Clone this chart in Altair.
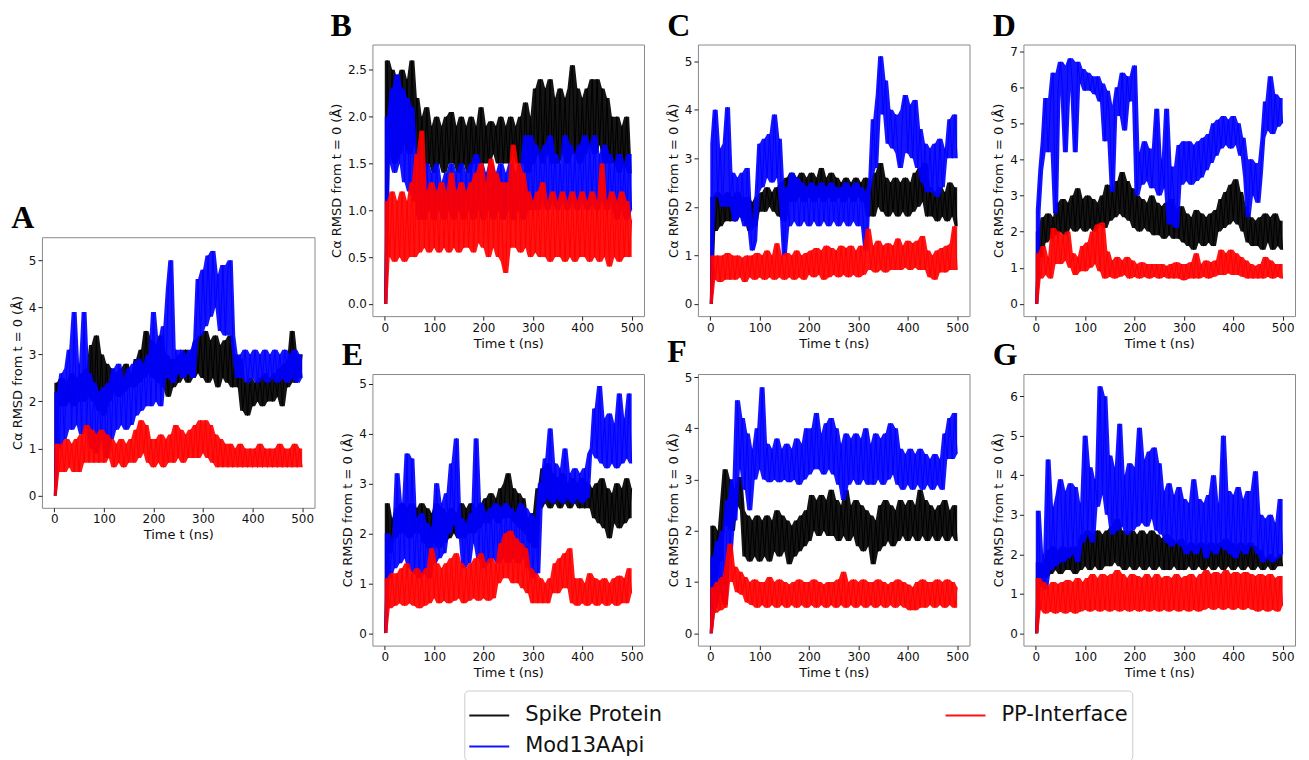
import altair as alt
import pandas as pd

# sampling times (ns)
TIME = list(range(0, 501, 5))

SERIES = ["Spike Protein", "Mod13AApi", "PP-Interface"]
SERIES_COLORS = ["#000000", "#0000ff", "#ff0000"]

X_TICKS = [0, 100, 200, 300, 400, 500]

# ---------------- Panel A ----------------
A_SPIKE = [0.0, 2.4, 1.9, 2.5, 1.9, 2.4, 2.0, 2.6, 1.9, 2.5,
           2.0, 2.6, 2.0, 2.7, 2.1, 3.2, 2.0, 3.4, 1.8, 3.0,
           1.7, 2.8, 2.0, 2.7, 2.2, 2.6, 2.1, 2.7, 2.2, 2.8,
           2.3, 2.6, 2.3, 2.9, 2.4, 3.1, 2.5, 3.5, 2.6, 3.3,
           2.5, 3.2, 2.4, 3.4, 2.3, 3.0, 2.1, 2.9, 2.3, 2.9,
           2.4, 3.0, 2.5, 3.1, 2.4, 3.0, 2.5, 3.3, 2.6, 3.4,
           2.5, 3.5, 2.4, 3.3, 2.5, 3.4, 2.3, 3.2, 2.5, 3.3,
           2.4, 3.4, 2.3, 3.0, 2.3, 2.9, 1.8, 2.4, 1.7, 2.5,
           1.9, 2.4, 2.0, 2.5, 1.9, 2.6, 2.0, 2.5, 2.0, 2.6,
           2.1, 2.7, 1.9, 2.8, 2.3, 2.9, 3.5, 2.4, 3.0, 2.5,
           3.0]
A_MOD = [0.0, 2.2, 1.0, 2.6, 1.2, 2.7, 3.1, 1.4, 3.9, 1.5,
         2.8, 1.3, 3.9, 1.5, 2.6, 1.0, 2.4, 0.9, 2.2, 1.2,
         2.3, 0.8, 2.4, 1.2, 2.7, 1.4, 2.8, 1.5, 2.5, 1.4,
         2.7, 1.5, 2.8, 1.7, 2.9, 1.8, 2.8, 1.9, 3.0, 1.9,
         3.9, 2.0, 3.3, 1.9, 3.6, 2.5, 4.4, 5.0, 2.4, 3.1,
         2.6, 3.1, 2.5, 3.0, 2.6, 3.1, 2.5, 3.3, 4.6, 3.4,
         4.8, 3.6, 5.1, 3.8, 5.2, 4.0, 4.7, 3.5, 4.9, 3.4,
         4.8, 5.0, 3.4, 2.9, 2.5, 3.0, 2.5, 3.1, 2.4, 3.0,
         2.5, 3.1, 2.4, 3.0, 2.5, 3.1, 2.4, 3.0, 2.5, 3.1,
         2.4, 3.0, 2.5, 3.1, 2.4, 3.0, 2.5, 3.1, 2.4, 3.0,
         2.5]
A_PP = [0.0, 1.1, 0.5, 1.1, 0.5, 1.2, 0.6, 1.1, 0.5, 1.2,
        0.5, 1.3, 0.7, 1.5, 0.7, 1.4, 0.7, 1.3, 0.7, 1.4,
        0.7, 1.3, 0.8, 1.2, 0.6, 1.1, 0.7, 1.2, 0.6, 1.1,
        0.7, 1.2, 0.7, 1.4, 0.8, 1.6, 0.9, 1.5, 0.7, 1.2,
        0.6, 1.2, 0.7, 1.3, 0.6, 1.2, 0.7, 1.3, 0.7, 1.5,
        0.8, 1.4, 0.7, 1.3, 0.8, 1.4, 0.8, 1.5, 0.8, 1.6,
        0.9, 1.6, 0.8, 1.5, 0.7, 1.3, 0.6, 1.2, 0.6, 1.1,
        0.6, 1.1, 0.6, 1.0, 0.6, 1.1, 0.6, 1.0, 0.6, 1.0,
        0.6, 1.0, 0.6, 1.1, 0.6, 1.0, 0.6, 1.0, 0.6, 1.0,
        0.6, 1.1, 0.6, 1.0, 0.6, 1.0, 0.6, 1.1, 0.6, 1.0,
        0.6]

# ---------------- Panel B ----------------
B_SPIKE = [0.0, 2.6, 1.6, 2.5, 1.5, 2.4, 1.6, 2.5, 1.7, 2.4,
           1.6, 2.6, 1.7, 2.2, 1.5, 2.0, 1.4, 2.1, 1.5, 1.9,
           1.4, 2.0, 1.5, 1.9, 1.4, 2.0, 1.5, 2.05, 1.5, 1.9,
           1.4, 2.0, 1.5, 1.9, 1.4, 2.0, 1.5, 1.9, 1.5, 2.1,
           1.5, 1.9, 1.5, 1.95, 1.6, 1.9, 1.5, 2.0, 1.5, 1.9,
           1.5, 2.0, 1.6, 1.9, 1.5, 2.0, 1.5, 2.15, 1.4, 2.0,
           1.5, 2.3, 1.6, 2.4, 1.5, 2.3, 1.6, 2.4, 1.5, 2.2,
           1.5, 2.3, 1.6, 2.2, 1.5, 2.3, 2.55, 1.6, 2.3, 1.5,
           2.2, 1.6, 2.3, 1.7, 2.4, 1.6, 2.4, 1.7, 2.3, 1.5,
           2.2, 1.5, 2.0, 1.5, 2.0, 1.4, 1.9, 1.5, 2.0, 1.4,
           1.4]
B_MOD = [0.0, 2.0, 1.5, 2.3, 1.4, 2.45, 1.5, 2.3, 1.3, 2.2,
         1.2, 2.1, 1.1, 1.6, 0.9, 1.4, 0.9, 1.5, 1.0, 1.4,
         0.9, 1.5, 1.0, 1.3, 0.9, 1.4, 1.0, 1.5, 0.9, 1.4,
         1.0, 1.5, 0.9, 1.4, 1.0, 1.5, 0.9, 1.6, 1.0, 1.5,
         0.9, 1.4, 1.0, 1.5, 0.9, 1.4, 1.0, 1.5, 0.9, 1.4,
         1.0, 1.5, 0.9, 1.4, 1.0, 1.5, 0.9, 1.8, 1.0, 1.8,
         1.0, 1.7, 1.0, 1.6, 1.1, 1.7, 1.0, 1.8, 1.1, 1.6,
         1.0, 1.5, 1.1, 1.8, 1.0, 1.7, 1.1, 1.6, 1.0, 1.7,
         1.1, 1.8, 1.0, 1.7, 1.1, 1.8, 1.0, 1.6, 1.1, 1.7,
         1.0, 1.6, 1.1, 1.5, 0.9, 1.6, 1.0, 1.5, 0.9, 1.6,
         1.0]
B_PP = [0.0, 1.1, 0.5, 1.2, 0.45, 1.1, 0.5, 1.2, 0.45, 1.1,
        0.5, 1.3, 0.5, 1.6, 0.55, 1.85, 0.6, 1.2, 0.55, 1.3,
        0.6, 1.2, 0.55, 1.3, 0.6, 1.2, 0.55, 1.4, 0.6, 1.2,
        0.55, 1.3, 0.6, 1.2, 0.6, 1.3, 0.55, 1.4, 0.65, 1.5,
        0.6, 1.3, 0.5, 1.55, 0.6, 1.4, 0.5, 1.3, 0.45, 0.33,
        1.3, 0.6, 1.7, 0.6, 1.5, 0.55, 1.4, 0.6, 1.2, 0.5,
        1.1, 0.55, 1.2, 0.5, 1.3, 0.5, 1.1, 0.45, 1.2, 0.5,
        1.1, 0.5, 1.2, 0.45, 1.1, 0.5, 1.2, 0.45, 1.1, 0.5,
        1.2, 0.5, 1.1, 0.45, 1.2, 0.5, 1.1, 0.45, 1.5, 0.5,
        1.1, 0.4, 1.2, 0.5, 1.1, 0.45, 1.2, 0.5, 1.1, 0.5,
        0.9]

# ---------------- Panel C ----------------
C_SPIKE = [0.0, 2.2, 1.5, 2.3, 1.6, 2.2, 1.7, 2.3, 1.7, 2.2,
           1.7, 2.3, 1.8, 2.2, 1.7, 2.2, 1.5, 2.1, 1.6, 2.2,
           1.9, 2.3, 1.9, 2.4, 2.0, 2.3, 1.9, 2.4, 1.8, 2.5,
           1.7, 2.6, 2.1, 2.7, 2.1, 2.6, 2.2, 2.7, 2.1, 2.6,
           2.2, 2.7, 2.1, 2.6, 2.2, 2.8, 2.1, 2.6, 2.2, 2.7,
           2.1, 2.6, 2.2, 2.5, 2.1, 2.6, 2.2, 2.5, 2.1, 2.6,
           2.2, 2.5, 2.1, 2.6, 1.8, 2.5, 1.8, 2.7, 2.0, 2.9,
           1.9, 2.6, 1.8, 2.5, 1.9, 2.6, 1.8, 2.5, 1.9, 2.6,
           1.8, 2.5, 1.9, 2.7, 2.0, 2.8, 2.1, 2.9, 1.8, 2.4,
           1.8, 2.3, 1.7, 2.4, 1.8, 2.3, 1.7, 2.5, 1.8, 2.4,
           1.6]
C_MOD = [0.0, 3.3, 4.0, 2.2, 3.2, 2.0, 3.3, 4.05, 2.0, 2.7,
         1.7, 2.6, 1.8, 2.7, 1.6, 2.8, 1.7, 1.1, 1.3, 2.3,
         3.3, 2.4, 3.4, 2.6, 3.5, 2.5, 3.9, 2.6, 3.4, 2.0,
         1.0, 2.4, 1.6, 2.7, 1.7, 2.6, 1.6, 2.5, 1.7, 2.4,
         1.6, 2.5, 1.7, 2.4, 1.6, 2.5, 1.7, 2.4, 1.6, 2.5,
         1.7, 2.4, 1.6, 2.4, 1.7, 2.5, 1.6, 2.4, 1.7, 2.5,
         1.6, 2.4, 1.7, 1.1, 2.3, 2.6, 3.8, 2.8, 4.3, 5.1,
         3.9, 4.6, 3.3, 4.0, 3.2, 3.9, 3.1, 2.8, 4.0, 4.3,
         3.1, 4.1, 3.0, 4.2, 2.8, 3.6, 2.5, 3.3, 2.3, 3.2,
         2.3, 3.3, 2.2, 3.4, 2.4, 3.2, 3.0, 3.8, 3.0, 3.9,
         3.0]
C_PP = [0.0, 1.0, 0.5, 1.0, 0.45, 1.0, 0.5, 1.05, 0.5, 1.0,
        0.5, 1.0, 0.55, 0.95, 0.45, 1.0, 0.55, 1.0, 0.5, 1.05,
        0.55, 1.0, 0.5, 1.1, 0.55, 1.0, 0.5, 1.25, 0.55, 1.0,
        0.5, 1.05, 0.55, 1.0, 0.5, 1.1, 0.55, 1.0, 0.5, 1.05,
        0.6, 1.1, 0.55, 1.15, 0.6, 1.1, 0.5, 1.2, 0.55, 1.15,
        0.6, 1.1, 0.55, 1.2, 0.6, 1.15, 0.55, 1.2, 0.6, 1.1,
        0.55, 1.2, 0.6, 1.1, 1.55, 0.7, 1.2, 0.65, 1.3, 0.7,
        1.2, 0.65, 1.25, 0.7, 1.2, 0.7, 1.35, 0.7, 1.2, 0.75,
        1.3, 0.7, 1.25, 0.75, 1.3, 0.7, 1.4, 0.7, 1.1, 0.55,
        1.0, 0.5, 1.1, 0.65, 1.15, 0.65, 1.2, 0.7, 1.25, 1.6,
        0.7]

# ---------------- Panel D ----------------
D_SPIKE = [0.0, 2.0, 1.3, 2.4, 1.7, 2.5, 1.8, 2.4, 1.9, 2.8,
           2.0, 2.9, 1.9, 2.8, 2.1, 3.0, 2.0, 3.2, 2.1, 2.9,
           2.0, 3.0, 2.1, 2.9, 2.0, 2.8, 2.2, 3.0, 2.1, 3.3,
           2.3, 3.1, 2.4, 3.4, 2.5, 3.65, 2.4, 3.4, 2.3, 3.2,
           2.1, 3.0, 2.0, 2.9, 2.1, 2.8, 2.0, 3.0, 1.9, 2.8,
           1.9, 2.7, 1.8, 2.8, 1.9, 2.9, 1.8, 2.6, 1.8, 2.7,
           1.7, 2.5, 1.6, 2.4, 1.5, 2.6, 1.7, 2.5, 1.6, 2.4,
           1.7, 2.5, 1.6, 2.6, 2.0, 2.9, 2.1, 3.1, 2.2, 3.3,
           2.3, 3.45, 2.2, 3.1, 2.0, 2.7, 1.7, 2.4, 1.6, 2.3,
           1.6, 2.4, 1.5, 2.5, 1.7, 2.4, 1.5, 2.5, 1.6, 2.3,
           1.5]
D_MOD = [0.0, 2.6, 3.7, 4.5, 5.7, 4.2, 5.6, 6.4, 2.5, 5.9,
         6.7, 5.8, 4.2, 6.6, 6.8, 5.9, 4.2, 6.7, 6.1, 6.5,
         5.9, 6.4, 5.9, 6.3, 5.8, 6.3, 5.6, 6.1, 4.5, 5.9,
         4.9, 3.1, 5.5, 6.0, 5.2, 6.4, 4.8, 6.3, 5.6, 6.3,
         6.6, 3.0, 4.2, 3.3, 4.5, 3.4, 4.3, 3.2, 4.2, 5.4,
         3.0, 4.0, 3.2, 5.4, 2.2, 3.8, 2.9, 2.1, 4.4, 3.3,
         4.5, 3.4, 4.5, 3.3, 4.4, 3.4, 4.5, 3.5, 4.6, 3.7,
         4.7, 3.9, 5.0, 4.1, 5.1, 4.3, 5.2, 4.4, 5.1, 4.3,
         5.2, 4.4, 5.0, 4.1, 4.6, 3.5, 2.4, 4.0, 3.0, 3.9,
         2.8, 3.6, 4.6, 5.6, 4.8, 6.3, 4.7, 5.8, 4.9, 5.7,
         5.0]
D_PP = [0.0, 1.4, 0.7, 1.6, 0.8, 1.3, 0.7, 2.1, 1.1, 2.0,
        1.1, 1.9, 1.2, 2.0, 1.0, 1.4, 0.8, 1.3, 0.9, 1.6,
        0.9, 1.7, 1.0, 2.0, 1.1, 2.2, 0.9, 2.25, 0.7, 1.45,
        0.75, 1.2, 0.7, 1.3, 0.75, 1.2, 0.8, 1.3, 0.7, 1.2,
        0.75, 1.1, 0.7, 1.15, 0.75, 1.1, 0.7, 1.1, 0.75, 1.1,
        0.7, 1.1, 0.75, 1.05, 0.7, 1.1, 0.7, 1.15, 0.7, 1.1,
        0.65, 1.1, 0.7, 1.15, 0.7, 1.4, 0.7, 1.1, 0.75, 1.2,
        0.7, 1.15, 0.75, 1.2, 0.8, 1.5, 0.8, 1.4, 0.85, 1.5,
        0.8, 1.4, 0.8, 1.3, 0.75, 1.2, 0.7, 1.1, 0.7, 1.05,
        0.7, 1.1, 0.7, 1.3, 0.75, 1.2, 0.7, 1.1, 0.75, 1.1,
        0.7]

# ---------------- Panel E ----------------
E_SPIKE = [0.0, 2.6, 1.6, 2.3, 1.9, 2.5, 2.0, 2.6, 2.0, 2.5,
           1.9, 2.6, 2.0, 2.5, 2.0, 2.6, 1.8, 2.5, 1.7, 2.4,
           1.8, 2.6, 1.7, 2.5, 1.8, 2.4, 1.9, 2.5, 2.0, 2.4,
           1.9, 2.6, 1.9, 2.5, 2.0, 2.6, 2.0, 2.5, 2.1, 2.6,
           2.2, 2.7, 2.2, 2.8, 2.3, 2.7, 2.2, 2.9, 2.3, 3.0,
           3.2, 2.3, 2.9, 2.2, 2.8, 2.1, 2.7, 2.0, 2.3, 1.8,
           2.4, 1.7, 2.9, 2.5, 3.3, 2.6, 3.4, 2.5, 3.2, 2.6,
           3.1, 2.5, 3.2, 2.6, 3.0, 2.5, 3.1, 2.6, 3.0, 2.5,
           3.1, 2.5, 3.0, 2.5, 2.9, 2.3, 3.0, 2.2, 3.1, 2.1,
           2.9, 1.9, 2.8, 2.2, 3.0, 2.1, 2.9, 2.2, 3.1, 2.3,
           2.9]
E_MOD = [0.0, 2.0, 1.1, 1.9, 1.3, 3.2, 1.4, 2.6, 1.5, 3.6,
         1.3, 3.5, 1.2, 2.3, 1.1, 2.4, 1.2, 2.2, 1.1, 2.1,
         1.4, 3.0, 1.5, 2.6, 1.6, 2.8, 2.0, 3.4, 2.2, 3.9,
         1.9, 2.3, 1.3, 2.2, 1.4, 2.4, 1.8, 3.9, 1.5, 2.6,
         1.3, 2.4, 1.4, 2.5, 1.5, 2.6, 1.4, 2.5, 1.5, 2.6,
         1.4, 2.5, 1.5, 2.4, 1.4, 2.6, 1.5, 2.5, 1.3, 2.4,
         1.1, 2.3, 1.2, 3.0, 2.6, 3.5, 2.7, 4.1, 2.6, 3.4,
         2.7, 3.3, 2.6, 3.7, 2.7, 3.2, 2.6, 3.3, 2.7, 3.2,
         2.6, 3.3, 2.7, 3.6, 3.7, 4.5, 3.5, 4.95, 3.4, 4.3,
         3.3, 4.4, 3.4, 4.2, 3.3, 4.8, 3.4, 4.3, 3.5, 4.8,
         3.4]
E_PP = [0.0, 1.1, 0.5, 1.2, 0.55, 1.2, 0.6, 1.3, 0.55, 1.4,
        0.6, 1.2, 0.55, 1.3, 0.5, 1.2, 0.55, 1.3, 0.6, 1.7,
        0.7, 1.4, 0.6, 1.3, 0.65, 1.4, 0.6, 1.5, 0.65, 1.6,
        0.7, 1.4, 0.6, 1.3, 0.65, 1.4, 0.7, 1.5, 0.65, 1.6,
        0.7, 1.4, 0.65, 1.5, 0.7, 1.4, 1.0, 1.8, 1.1, 2.0,
        1.1, 2.05, 1.0, 1.9, 1.0, 1.8, 0.9, 1.7, 0.8, 1.3,
        0.6, 1.2, 0.6, 1.1, 0.6, 1.0, 0.6, 1.1, 0.8, 1.4,
        0.8, 1.5, 0.9, 1.6, 0.9, 1.7, 0.6, 1.1, 0.55, 1.1,
        0.6, 1.0, 0.55, 1.2, 0.6, 1.1, 0.55, 1.05, 0.6, 1.1,
        0.55, 1.0, 0.6, 1.1, 0.55, 1.15, 0.6, 1.1, 0.6, 1.3,
        0.8]

# ---------------- Panel F ----------------
F_SPIKE = [0.0, 2.1, 1.0, 2.0, 1.4, 2.6, 3.2, 2.1, 3.0, 2.0,
           2.8, 2.5, 3.05, 2.4, 1.5, 2.3, 1.4, 2.2, 1.5, 2.3,
           1.4, 2.2, 1.5, 2.3, 1.4, 2.2, 1.6, 2.4, 1.5, 2.3,
           1.6, 2.2, 1.35, 2.1, 1.5, 2.2, 1.6, 2.3, 1.7, 2.4,
           1.8, 2.7, 2.0, 2.6, 1.9, 2.7, 2.0, 2.6, 1.9, 2.8,
           1.9, 2.6, 1.8, 2.5, 1.9, 2.8, 1.8, 2.5, 1.9, 2.6,
           1.7, 2.5, 1.6, 2.4, 1.7, 2.3, 1.35, 2.2, 1.6, 2.5,
           1.7, 2.6, 1.8, 2.5, 1.7, 2.4, 1.8, 2.6, 1.9, 2.5,
           1.8, 2.6, 1.9, 2.5, 1.8, 2.8, 1.9, 2.6, 1.8, 2.5,
           1.9, 2.4, 1.8, 2.5, 1.9, 2.6, 1.8, 2.4, 1.9, 2.5,
           1.8]
F_MOD = [0.0, 1.5, 0.5, 1.8, 0.8, 2.0, 0.55, 2.6, 1.5, 3.0,
         2.2, 4.55, 3.2, 4.2, 2.8, 3.9, 2.4, 3.6, 3.0, 4.0,
         3.2, 4.8, 3.0, 3.7, 2.95, 3.6, 3.0, 3.8, 2.95, 3.6,
         3.0, 3.7, 2.95, 3.6, 3.0, 3.8, 2.9, 3.7, 3.0, 4.0,
         3.1, 4.0, 3.2, 4.3, 3.2, 3.9, 3.1, 4.1, 3.2, 4.2,
         3.1, 4.0, 2.9, 3.7, 2.6, 3.9, 2.9, 3.8, 3.0, 3.9,
         2.9, 3.8, 3.0, 4.0, 2.9, 3.7, 2.9, 3.9, 3.0, 3.8,
         2.9, 3.9, 3.0, 4.1, 3.1, 4.0, 2.9, 3.6, 2.8, 3.5,
         2.9, 3.6, 2.8, 3.5, 2.9, 3.6, 2.8, 3.5, 2.9, 3.4,
         2.8, 3.5, 2.9, 3.4, 2.8, 3.9, 3.4, 4.2, 3.4, 4.3,
         3.5]
F_PP = [0.0, 0.9, 0.4, 1.0, 0.45, 1.1, 0.5, 1.4, 1.75, 1.0,
        1.3, 0.8, 1.2, 0.75, 1.1, 0.6, 1.0, 0.55, 1.05, 0.5,
        1.0, 0.55, 1.0, 0.5, 1.1, 0.55, 1.0, 0.5, 1.05, 0.55,
        1.0, 0.5, 0.95, 0.55, 1.0, 0.5, 1.05, 0.55, 1.0, 0.5,
        1.0, 0.55, 1.05, 0.5, 1.0, 0.55, 0.95, 0.5, 1.0, 0.55,
        1.0, 0.5, 1.05, 0.55, 1.2, 0.5, 1.0, 0.55, 1.05, 0.5,
        1.0, 0.55, 1.05, 0.5, 1.0, 0.55, 1.0, 0.5, 1.05, 0.55,
        1.0, 0.5, 0.95, 0.55, 1.0, 0.5, 1.05, 0.55, 1.0, 0.5,
        0.95, 0.45, 0.9, 0.45, 1.0, 0.5, 1.05, 0.5, 1.0, 0.55,
        1.0, 0.5, 1.05, 0.55, 1.0, 0.5, 1.05, 0.55, 1.0, 0.5,
        0.9]

# ---------------- Panel G ----------------
G_SPIKE = [0.0, 1.8, 1.3, 1.7, 1.4, 2.1, 1.5, 2.2, 1.6, 2.1,
           1.5, 2.2, 1.6, 2.1, 1.6, 2.2, 1.5, 2.2, 1.6, 2.5,
           1.7, 2.6, 1.6, 2.5, 1.7, 2.6, 1.6, 2.5, 1.7, 2.6,
           1.7, 2.7, 1.8, 2.9, 1.7, 2.6, 1.6, 2.5, 1.7, 2.6,
           1.6, 2.5, 1.7, 2.6, 1.6, 2.5, 1.7, 2.6, 1.6, 2.5,
           1.7, 2.4, 1.6, 2.5, 1.6, 2.4, 1.7, 2.3, 1.6, 2.4,
           1.6, 2.2, 1.7, 2.3, 1.6, 2.2, 1.7, 2.3, 1.6, 2.2,
           1.7, 2.3, 1.6, 2.2, 1.7, 2.3, 1.6, 2.4, 1.7, 2.3,
           1.6, 2.2, 1.7, 2.3, 1.6, 2.2, 1.7, 2.3, 1.6, 2.2,
           1.7, 2.1, 1.6, 1.9, 1.7, 2.0, 1.6, 1.9, 1.7, 2.0,
           1.7]
G_MOD = [0.0, 3.1, 1.2, 2.0, 1.1, 4.4, 1.6, 3.2, 1.7, 3.5,
         3.9, 1.8, 3.6, 1.9, 3.8, 2.0, 3.7, 1.8, 3.3, 2.3,
         5.0, 2.5, 4.2, 2.3, 3.9, 3.2, 6.25, 3.5, 6.0, 3.0,
         4.5, 2.5, 4.2, 2.6, 5.3, 2.7, 4.0, 2.5, 4.3, 2.6,
         4.2, 2.7, 5.2, 2.8, 4.4, 2.7, 4.6, 2.9, 4.7, 2.6,
         4.3, 2.5, 3.6, 2.3, 3.8, 2.2, 3.5, 2.3, 3.7, 2.2,
         3.4, 2.0, 3.3, 2.1, 3.9, 2.0, 3.4, 2.2, 3.3, 1.9,
         3.5, 2.1, 4.0, 2.0, 3.3, 2.2, 5.0, 2.1, 3.6, 2.0,
         3.5, 1.9, 3.7, 2.1, 3.4, 2.0, 3.6, 2.2, 3.3, 4.1,
         2.0, 3.0, 1.8, 2.9, 1.9, 3.0, 1.8, 2.8, 1.9, 3.4,
         2.0]
G_PP = [0.0, 1.4, 0.6, 1.3, 0.5, 1.2, 0.55, 1.3, 0.5, 1.25,
        0.55, 1.3, 0.5, 1.35, 0.55, 1.3, 0.5, 1.4, 0.55, 1.3,
        0.6, 1.4, 0.55, 1.5, 0.6, 1.4, 0.55, 1.5, 0.6, 1.45,
        0.55, 1.5, 0.6, 1.6, 0.55, 1.5, 0.6, 1.4, 0.55, 1.5,
        0.6, 1.45, 0.55, 1.4, 0.6, 1.5, 0.55, 1.4, 0.6, 1.5,
        0.55, 1.4, 0.6, 1.45, 0.55, 1.4, 0.6, 1.5, 0.55, 1.4,
        0.6, 1.45, 0.55, 1.5, 0.6, 1.4, 0.55, 1.5, 0.6, 1.6,
        0.65, 1.5, 0.6, 1.55, 0.65, 1.5, 0.6, 1.6, 0.65, 1.5,
        0.6, 1.55, 0.65, 1.5, 0.6, 1.55, 0.65, 1.5, 0.6, 1.45,
        0.55, 1.5, 0.6, 1.45, 0.55, 1.5, 0.6, 1.4, 0.55, 1.45,
        0.7]

PANELS = {
    "A": dict(data=(A_SPIKE, A_MOD, A_PP), ydom=[-0.26, 5.49], yticks=[0, 1, 2, 3, 4, 5], fmt="d"),
    "B": dict(data=(B_SPIKE, B_MOD, B_PP), ydom=[-0.13, 2.77], yticks=[0.0, 0.5, 1.0, 1.5, 2.0, 2.5], fmt=".1f"),
    "C": dict(data=(C_SPIKE, C_MOD, C_PP), ydom=[-0.25, 5.34], yticks=[0, 1, 2, 3, 4, 5], fmt="d"),
    "D": dict(data=(D_SPIKE, D_MOD, D_PP), ydom=[-0.34, 7.18], yticks=[0, 1, 2, 3, 4, 5, 6, 7], fmt="d"),
    "E": dict(data=(E_SPIKE, E_MOD, E_PP), ydom=[-0.25, 5.19], yticks=[0, 1, 2, 3, 4, 5], fmt="d"),
    "F": dict(data=(F_SPIKE, F_MOD, F_PP), ydom=[-0.24, 5.06], yticks=[0, 1, 2, 3, 4, 5], fmt="d"),
    "G": dict(data=(G_SPIKE, G_MOD, G_PP), ydom=[-0.31, 6.56], yticks=[0, 1, 2, 3, 4, 5, 6], fmt="d"),
}

LEGEND = alt.Legend(
    title=None, orient="none", legendX=423, legendY=647,
    columns=2, columnPadding=279, rowPadding=-8,
    symbolType="stroke", symbolSize=1600, symbolStrokeWidth=2,
    labelFontSize=21, labelFont="DejaVu Sans", labelColor="#111111",
    labelOffset=15, labelLimit=400,
    strokeColor="#cccccc", fillColor="#ffffff", padding=4, cornerRadius=4,
)

COLOR_SCALE = alt.Scale(domain=SERIES, range=SERIES_COLORS)


def panel(letter, w=272, h=272):
    p = PANELS[letter]
    xs = alt.Scale(domain=[-25, 525], nice=False, zero=False)
    ys = alt.Scale(domain=p["ydom"], nice=False, zero=False)
    x = alt.X("t:Q", scale=xs, axis=alt.Axis(values=X_TICKS, title="Time  t (ns)", format="d"))
    y_axis = alt.Axis(values=p["yticks"], format=p["fmt"], title="Cα RMSD from t = 0 (Å)")
    color = alt.Color("series:N", scale=COLOR_SCALE, legend=LEGEND)
    layers = []
    for name, vals in zip(SERIES, p["data"]):
        assert len(vals) == len(TIME), (letter, name, len(vals))
        df = pd.DataFrame({"t": TIME, "rmsd": vals, "series": name})
        # fluctuation band spanned by neighbouring samples
        df["lo"] = df["rmsd"].rolling(3, center=True, min_periods=1).min()
        df["hi"] = df["rmsd"].rolling(3, center=True, min_periods=1).max()
        band = alt.Chart(df).mark_area(opacity=0.92, clip=True).encode(
            x=x, y=alt.Y("lo:Q", scale=ys, axis=y_axis), y2="hi:Q", color=color
        )
        line = alt.Chart(df).mark_line(strokeWidth=1, clip=True).encode(
            x=x, y=alt.Y("rmsd:Q", scale=ys, axis=y_axis), color=color
        )
        layers += [band, line]
    return alt.layer(*layers).properties(
        width=w, height=h,
        title=alt.TitleParams(letter, anchor="start", frame="bounds", font="Liberation Serif",
                              fontSize=32, fontWeight="bold", color="#000000", offset=2),
    )


spacer = alt.Chart(pd.DataFrame({"v": [0]})).mark_point(opacity=0).encode(
    x=alt.X("v:Q", axis=None), y=alt.Y("v:Q", axis=None)
).properties(width=273, height=157, view=alt.ViewBackground(strokeOpacity=0))

col_a = alt.vconcat(spacer, panel("A", w=273, h=271), spacing=0)

grid = alt.concat(
    panel("B"), panel("C"), panel("D"),
    panel("E"), panel("F"), panel("G"),
    columns=3, spacing=alt.RowColnumber(row=58, column=54), bounds="flush",
)

chart = alt.hconcat(col_a, grid, spacing=14).configure_view(
    stroke="#8a8a8a", strokeWidth=1
).configure_axis(
    grid=False, domain=False,
    labelFont="DejaVu Sans", labelFontSize=12, labelColor="#111111",
    titleFont="DejaVu Sans", titleFontSize=13, titleFontWeight="normal", titleColor="#111111",
    tickColor="#222222", tickSize=4, labelPadding=2, titlePadding=4,
    labelFlush=False, labelOverlap=False,
).properties(padding={"left": 2, "top": 0, "right": 5, "bottom": 5})

chart.save("out.html", embed_options={"renderer": "svg", "actions": False})
